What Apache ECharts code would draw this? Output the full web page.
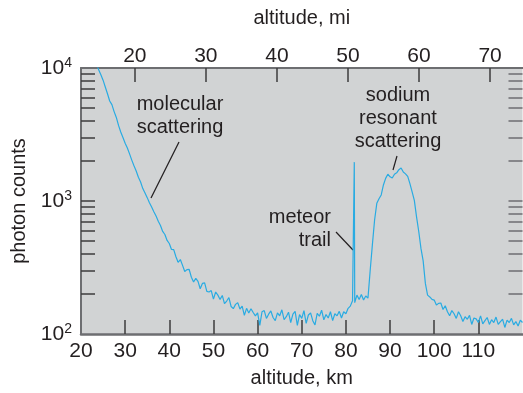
<!DOCTYPE html>
<html>
<head>
<meta charset="utf-8">
<script src="https://cdn.jsdelivr.net/npm/echarts@6/dist/echarts.min.js"></script>
<style>
html,body{margin:0;padding:0;background:#fff;}
#chart{width:523px;height:393px;}
</style>
</head>
<body>
<div id="chart"></div>
<script>
// altitude (km) and photon counts
var altitudeKm = [
 23.5,24,24.5,25,25.5,26,26.5,27,27.5,28,28.5,29,29.5,30,30.5,31,31.5,32,32.5,33,33.5,34,34.5,35,35.5,36,36.5,37,37.5,38,38.5,39,39.5,
 40,40.5,41,41.5,42,42.5,43,43.5,44,44.5,45,45.5,46,46.5,47,47.5,48,48.5,49,49.5,
 50,50.5,51,51.5,52,52.5,53,53.5,54,54.5,55,55.5,56,56.5,57,57.5,58,58.5,59,59.5,
 60,60.5,61,61.5,62,62.5,63,63.5,64,64.5,65,65.5,66,66.5,67,67.5,68,68.5,69,69.5,
 70,70.5,71,71.5,72,72.5,73,73.5,74,74.5,75,75.5,76,76.5,77,77.5,78,78.5,79,79.5,
 80,80.5,81,81.5,81.8,81.9,82,82.5,83,83.5,84,84.5,85,85.5,86,86.5,87,87.5,88,88.5,89,89.5,
 90,90.5,91,91.5,92,92.5,93,93.5,94,94.5,95,95.5,96,96.5,97,97.5,98,98.5,99,99.5,
 100,100.5,101,101.5,102,102.5,103,103.5,104,104.5,105,105.5,106,106.5,107,107.5,108,108.5,109,109.5,
 110,110.5,111,111.5,112,112.5,113,113.5,114,114.5,115,115.5,116,116.5,117,117.5,118,118.5,119,119.5,120
];
var photonCounts = [
 10700,9700,8900,8100,7200,6400,5650,5300,4700,4250,3700,3300,3000,2720,2500,2260,2030,1840,1680,1510,1390,1240,1150,1060,970,900,830,770,705,655,590,560,505,
 479,432,431,381,346,363,328,295,305,306,267,246,262,249,219,240,242,209,207,212,
 183,207,196,182,195,169,177,188,161,155,167,172,154,162,138,156,144,155,145,137,
 144,116,147,150,131,141,149,133,126,144,137,152,128,135,146,122,141,148,116,140,
 131,150,120,139,144,126,117,143,136,151,128,140,132,147,126,142,137,148,132,147,
 142,156,162,178,180,1960,172,196,182,198,180,193,186,300,470,720,960,1040,1110,1320,1480,1590,
 1520,1490,1590,1630,1720,1770,1650,1600,1530,1350,1170,1010,760,590,440,355,240,196,190,182,
 180,165,170,171,153,163,147,137,150,142,131,147,137,124,135,129,138,118,132,130,
 122,137,119,126,133,118,128,122,134,118,124,129,112,127,122,131,117,124,115,127,122
];
var kmTicks = [30,40,50,60,70,80,90,100,110];
var kmLabels = [20,30,40,50,60,70,80,90,100,110];
var miTicks = [20,30,40,50,60,70];
var countTicks = [200,300,400,500,600,700,800,900,1000,2000,3000,4000,5000,6000,7000,8000,9000];
var countLabels = [100,1000,10000];

var KM_PER_MI = 1.609344;
var seriesData = altitudeKm.map(function(k,i){return [k, photonCounts[i]];});

var FONT = 'Liberation Sans';
var TXT = '#231f20';
var AXIS = '#6d6e71';
var TICK = '#3c3c3c';

var chart = echarts.init(document.getElementById('chart'), null, {renderer:'canvas'});
chart.setOption({
  animation:false,
  backgroundColor:'#ffffff',
  textStyle:{fontFamily:FONT},
  grid:{left:81, top:68, width:441.5, height:268, show:true, backgroundColor:'#d1d3d4', borderWidth:0, containLabel:false},
  xAxis:[{
    type:'value', position:'bottom', min:20, max:120,
    name:'altitude, km', nameLocation:'middle', nameGap:34,
    nameTextStyle:{fontSize:20, color:TXT, fontFamily:FONT},
    axisLine:{show:true, lineStyle:{color:AXIS, width:2.5}},
    axisTick:{show:true, inside:true, length:14, customValues:kmTicks, lineStyle:{color:TICK, width:1.5}},
    axisLabel:{show:true, customValues:kmLabels, fontSize:21, color:TXT, margin:7, fontFamily:FONT},
    splitLine:{show:false}
  },{
    type:'value', position:'top', min:20/KM_PER_MI, max:120/KM_PER_MI,
    name:'altitude, mi', nameLocation:'middle', nameGap:40,
    nameTextStyle:{fontSize:20, color:TXT, fontFamily:FONT},
    axisLine:{show:true, lineStyle:{color:AXIS, width:2}},
    axisTick:{show:true, inside:true, length:14, customValues:miTicks, lineStyle:{color:TICK, width:1.5}},
    axisLabel:{show:true, customValues:miTicks, fontSize:21, color:TXT, margin:1, fontFamily:FONT},
    splitLine:{show:false}
  }],
  yAxis:[{
    type:'log', logBase:10, min:100, max:10000, position:'left',
    name:'photon counts', nameLocation:'middle', nameGap:47,
    nameTextStyle:{fontSize:20, color:TXT, fontFamily:FONT},
    axisLine:{show:true, lineStyle:{color:AXIS, width:2}},
    axisTick:{show:true, inside:true, length:14, customValues:countTicks, lineStyle:{color:TICK, width:1.5}},
    axisLabel:{show:true, customValues:countLabels, margin:9,
      formatter:function(v){ var e=Math.round(Math.log10(v)); return '{b|10}{s|'+e+'}'; },
      rich:{b:{fontSize:21, lineHeight:24, color:TXT, fontFamily:FONT},
            s:{fontSize:14, lineHeight:14, verticalAlign:'top', color:TXT, fontFamily:FONT}}},
    splitLine:{show:false}
  },{
    type:'log', logBase:10, min:100, max:10000, position:'right',
    axisLine:{show:false},
    axisTick:{show:true, inside:true, length:14, customValues:countTicks, lineStyle:{color:AXIS, width:1.5}},
    axisLabel:{show:false},
    splitLine:{show:false}
  }],
  series:[{
    type:'line', xAxisIndex:0, yAxisIndex:0, data:seriesData,
    showSymbol:false, symbol:'none', clip:true,
    lineStyle:{color:'#29abe2', width:1.2}
  }],
  graphic:[
    {type:'text', silent:true, style:{text:'molecular\nscattering', x:180, y:116, align:'center', verticalAlign:'middle', lineHeight:23, font:'20px "Liberation Sans"', fill:TXT}},
    {type:'text', silent:true, style:{text:'sodium\nresonant\nscattering', x:398, y:118, align:'center', verticalAlign:'middle', lineHeight:23, font:'20px "Liberation Sans"', fill:TXT}},
    {type:'text', silent:true, style:{text:'meteor\ntrail', x:331, y:229, align:'right', verticalAlign:'middle', lineHeight:23, font:'20px "Liberation Sans"', fill:TXT}},
    {type:'line', silent:true, shape:{x1:179, y1:142, x2:151, y2:198}, style:{stroke:TXT, lineWidth:1.2}},
    {type:'line', silent:true, shape:{x1:397, y1:156, x2:393, y2:170}, style:{stroke:TXT, lineWidth:1.2}},
    {type:'line', silent:true, shape:{x1:336, y1:232, x2:353, y2:250}, style:{stroke:TXT, lineWidth:1.2}}
  ]
});
</script>
</body>
</html>
